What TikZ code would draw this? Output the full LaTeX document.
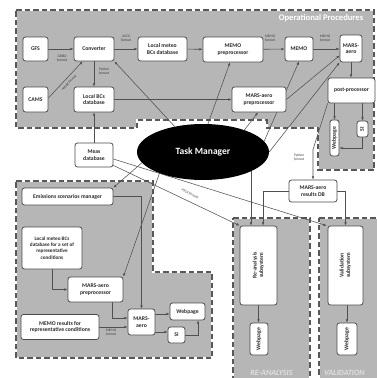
\documentclass[tikz,border=0pt]{standalone}
\usepackage{fontspec}
\setmainfont{Carlito}
\usetikzlibrary{arrows.meta,shapes.geometric,calc}
\definecolor{regc}{HTML}{B6B6B6}
\definecolor{dashc}{HTML}{585858}
\definecolor{boxc}{HTML}{4A4A4A}
\definecolor{txtc}{HTML}{2A2A2A}
\definecolor{linec}{HTML}{505050}
\definecolor{lblc}{HTML}{3A3A3A}
\pgfdeclarelayer{regions}
\pgfdeclarelayer{lines}
\pgfsetlayers{regions,lines,main}
\tikzset{
 box/.style={draw=boxc, fill=white, rounded corners=2.5pt, line width=0.8pt, text=txtc, align=center, inner sep=0pt, font=\bfseries\fontsize{5.7}{6.6}\selectfont},
 arr/.style={draw=linec, line width=0.55pt, -{Latex[length=3.2pt,width=2.6pt]}},
 lbl/.style={font=\itshape\fontsize{3.6}{4}\selectfont, text=lblc, align=center, inner sep=0pt},
 region/.style={fill=regc, draw=white, line width=1.8pt, postaction={draw=dashc, line width=1.8pt, dash pattern=on 5.5pt off 3pt}},
}
\newcommand{\vtext}[1]{\rotatebox{90}{\begin{tabular}{@{}c@{}}#1\end{tabular}}}
\begin{document}
\begin{tikzpicture}[x=1pt,y=-1pt]
\useasboundingbox (0,0) rectangle (376,378);
\clip (0,0) rectangle (376,378);
\begin{pgfonlayer}{regions}
\path[region] (16,10) -- (374,10) -- (374,170) -- (318,170) -- (318,128) -- (267,128) -- (267,120) -- (137,120) -- (137,128) -- (16,128) -- cycle;
\path[region] (16,181) -- (153,181) -- (153,272) -- (212,272) -- (212,358) -- (16,358) -- cycle;
\path[region] (233,218) -- (310,218) -- (310,384) -- (233,384) -- cycle;
\path[region] (319,218) -- (380,218) -- (380,384) -- (319,384) -- cycle;
\end{pgfonlayer}
% labels of regions
\node[text=white, font=\bfseries\fontsize{8.6}{10}\selectfont, inner sep=0pt] (optitle) at (321,18) {Operational Procedures};
\node[text=white!88!black, font=\bfseries\itshape\fontsize{8}{9}\selectfont, inner sep=0pt] (reatitle) at (271.5,373) {RE-ANALYSIS};
\node[text=white!88!black, font=\bfseries\itshape\fontsize{8}{9}\selectfont, inner sep=0pt, anchor=west] (valtitle) at (324,373) {VALIDATION};
% top region nodes
\node[box, minimum width=25, minimum height=24] (gfs) at (35.5,49) {GFS};
\node[box, minimum width=40, minimum height=24] (conv) at (94,49) {Converter};
\node[box, minimum width=49, minimum height=24] (lm) at (162.5,49) {Local meteo\\BCs database};
\node[box, minimum width=60, minimum height=25] (memopp) at (233,49.5) {MEMO\\preprocessor};
\node[box, minimum width=28, minimum height=24] (memo) at (299,49) {MEMO};
\node[box, minimum width=22, minimum height=27] (mars) at (351,48.5) {MARS-\\aero};
\node[box, minimum width=47, minimum height=25] (post) at (351.5,90.5) {post-processor};
\node[box, minimum width=9, minimum height=36] (wp1) at (334.5,138) {\vtext{Webpage}};
\node[box, minimum width=11, minimum height=16] (si1) at (362.5,129) {\vtext{SI}};
\node[box, minimum width=25, minimum height=25] (cams) at (35.5,99.5) {CAMS};
\node[box, minimum width=40, minimum height=25] (lbc) at (94,99.5) {Local BCs\\database};
\node[box, minimum width=54, minimum height=25] (mpp) at (259,99.5) {MARS-aero\\preprocessor};
% middle
\node[box, minimum width=38, minimum height=24] (meas) at (94,155) {Meas\\database};
\node[ellipse, fill=black, minimum width=132, minimum height=56, inner sep=0pt, text=white, font=\bfseries\fontsize{9.5}{11}\selectfont] (tm) at (203,152) {Task Manager};
\node[box, minimum width=48, minimum height=22] (db) at (313,191) {MARS-aero\\results DB};
% right regions
\node[box, minimum width=37, minimum height=79] (rea) at (258.5,265.5) {\vtext{Re-analysis\\subsystem}};
\node[box, minimum width=18, minimum height=32] (wp2) at (259,339) {\vtext{Webpage}};
\node[box, minimum width=35, minimum height=79] (val) at (345.5,265.5) {\vtext{Validation\\subsystem}};
\node[box, minimum width=20, minimum height=32] (wp3) at (347,339) {\vtext{Webpage}};
% bottom-left region
\node[box, minimum width=91, minimum height=17] (esm) at (67.5,196.5) {Emissions scenarios manager};
\node[box, minimum width=60, minimum height=42, font=\bfseries\fontsize{5.2}{6.2}\selectfont] (lmb) at (52,248) {Local meteo BCs\\database for a set of\\representative\\conditions};
\node[box, minimum width=55, minimum height=25] (mppb) at (95.5,289.5) {MARS-aero\\preprocessor};
\node[box, minimum width=78, minimum height=25] (memor) at (60,327) {MEMO results for\\representative conditions};
\node[box, minimum width=27, minimum height=26] (marsb) at (141.5,322) {MARS-\\aero};
\node[box, minimum width=35, minimum height=17] (wp4) at (187.5,311.5) {Webpage};
\node[box, minimum width=17, minimum height=16] (si2) at (176.5,335) {SI};
\coordinate (c1) at ($(wp4.west)+(0,2.5)$);
\coordinate (c2) at ($(si2.west)+(0,-3)$);
% connectors
\begin{pgfonlayer}{lines}
\draw[arr] (gfs) -- (conv);
\draw[arr] ($(cams.east)+(0,-1.5)$) -- ($(conv.south west)+(9,0)$);
\draw[arr] (conv) -- (lm);
\draw[arr] (conv) -- (lbc);
\draw[arr] (meas) -- (lbc);
\draw[arr] (lbc) -- (mpp);
\draw[arr] (lm) -- (memopp);
\draw[arr] (memopp) -- (memo);
\draw[arr] (memo) -- (memo -| mars.west);
\draw[arr] (mars.south) -- (mars.south |- post.north);
\draw[arr] (mpp.east) -- ($(mars.west)+(0,7)$);
\draw[arr] (tm.138) -- (conv.south east);
\draw[arr] (tm.80) -- ($(memopp.south)+(-3,0)$);
\draw[arr] (tm.28) -- ($(mpp.south)+(-1,0)$);
\draw[arr] (tm.10) -- (memo.south);
\draw[arr] (tm.east) -- (mars.south west);
\draw[arr] (post.south west) -- ($(db.north)+(0,-30)$) -- (db.north);
\draw[arr] (wp1.north |- post.south) -- (wp1.north);
\draw[arr] (si1.north |- post.south) -- (si1.north);
\draw[arr] (si1.south) |- ($(wp1.east)+(0,10)$);
\draw[arr] (tm.-22.7) -- (tm.-22.7 |- rea.north);
\draw[arr] (db.west) -| ($(rea.north)+(4.5,0)$);
\draw[arr] (db.east) -| (val.north);
\draw[arr] ($(meas.east)+(0,4)$) -- ($(val.north west)+(-1,0)$);
\draw[arr] ($(meas.south east)+(0,-2)$) -- (rea.north west);
\draw[arr] (rea.south) -- (rea.south |- wp2.north);
\draw[arr] (val.south -| wp3) -- (wp3.north);
\draw[arr] (tm.190) -- (esm.north east);
\draw[arr] (tm.206) -- (mppb.north east);
\draw[arr] (esm.east) -| (marsb.north);
\draw[arr] (lmb.south) |- (mppb.west);
\draw[arr] ($(mppb.south)+(16.5,0)$) |- ($(marsb.west)+(0,-4)$);
\draw[arr] (memor.east) -- (memor.east -| marsb.west);
\draw[arr] (marsb.east |- c1) -- (c1);
\draw[arr] (marsb.east |- c2) -- (c2);
\draw[arr] (si2.east) -| ($(wp4.south)+(10.5,0)$);
\end{pgfonlayer}
% connector labels
\node[lbl] (l1) at (62,59) {GRIB2\\format};
\node[lbl, rotate=46] (l2) at (69,83) {netcdf format};
\node[lbl] (l3) at (126,39) {ASCII\\format};
\node[lbl] (l4) at (104,71) {Python\\format};
\node[lbl] (l5) at (270,39) {MEMO\\format};
\node[lbl] (l6) at (325,39) {MEMO\\format};
\node[lbl] (l7) at (299,157) {Python\\format};
\node[lbl, rotate=-26] (l8) at (190,194) {ASCII format};
\node[lbl] (l9) at (111,333) {MEMO\\format};
\end{tikzpicture}
\end{document}
